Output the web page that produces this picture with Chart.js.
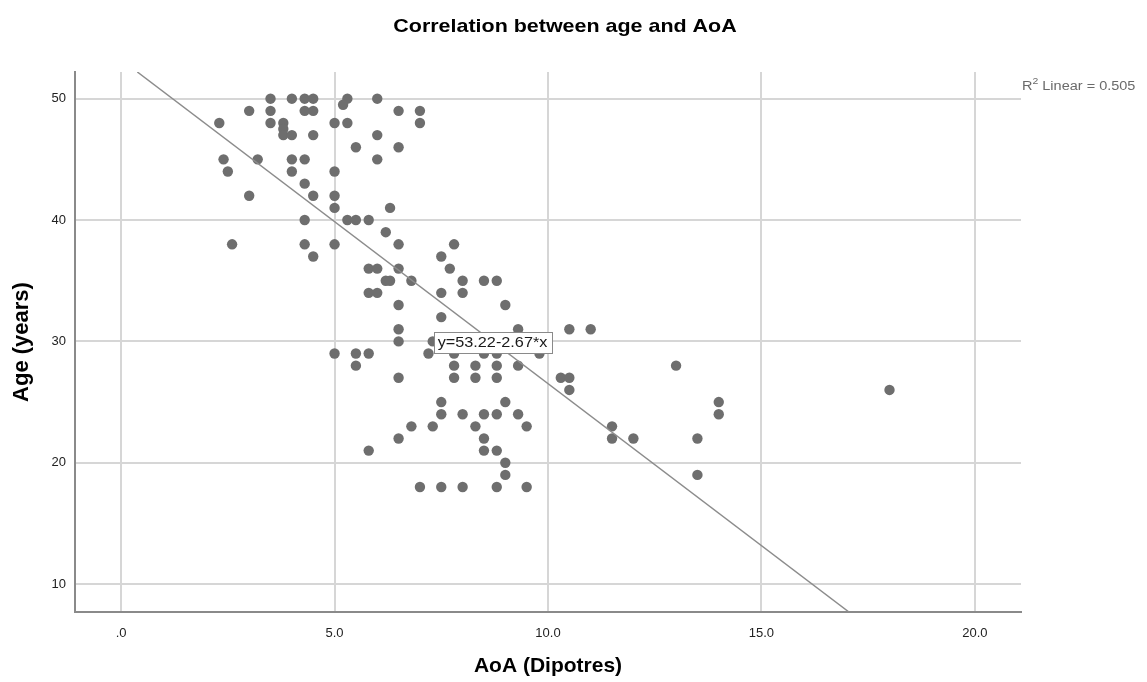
<!DOCTYPE html>
<html>
<head>
<meta charset="utf-8">
<title>Correlation between age and AoA</title>
<script src="https://cdn.jsdelivr.net/npm/chart.js@4.4.0/dist/chart.umd.min.js"></script>
<style>
  html, body { margin: 0; padding: 0; background: #fff; }
  #wrap { width: 1147px; height: 682px; }
</style>
</head>
<body>
<div id="wrap"><canvas id="scatter" width="1147" height="682"></canvas></div>
<script>
// Data: AoA (dioptres) vs age (years)
const aoa = [
  3.5, 4.0, 4.3, 4.5, 5.3, 6.0, 5.2,
  3.0, 3.5, 4.3, 4.5, 6.5, 7.0,
  2.3, 3.5, 3.8, 5.0, 5.3, 7.0,
  3.8, 3.8, 4.0, 4.5, 6.0,
  5.5, 6.5,
  2.4, 3.2, 4.0, 4.3, 6.0,
  2.5, 4.0, 5.0,
  4.3,
  3.0, 4.5, 5.0,
  5.0, 6.3,
  4.3, 5.3, 5.5, 5.8,
  6.2,
  2.6, 4.3, 5.0, 6.5, 7.8,
  4.5, 7.5,
  5.8, 6.0, 6.5, 7.7,
  6.2, 6.3, 6.8, 8.0, 8.5, 8.8,
  5.8, 6.0, 7.5, 8.0,
  6.5, 9.0,
  7.5,
  6.5, 9.3, 10.5, 11.0,
  6.5, 7.3,
  5.0, 5.5, 5.8, 7.2, 7.8, 8.5, 8.8, 9.8,
  5.5, 7.8, 8.3, 8.8, 9.3, 13.0,
  6.5, 7.8, 8.3, 8.8, 10.3, 10.5,
  10.5, 18.0,
  7.5, 9.0, 14.0,
  7.5, 8.0, 8.5, 8.8, 9.3, 14.0,
  6.8, 7.3, 8.3, 9.5, 11.5,
  6.5, 8.5, 11.5, 12.0, 13.5,
  5.8, 8.5, 8.8,
  9.0,
  9.0, 13.5,
  7.0, 7.5, 8.0, 8.8, 9.5
];
const age = [
  50, 50, 50, 50, 50, 50, 49.5,
  49, 49, 49, 49, 49, 49,
  48, 48, 48, 48, 48, 48,
  47.5, 47, 47, 47, 47,
  46, 46,
  45, 45, 45, 45, 45,
  44, 44, 44,
  43,
  42, 42, 42,
  41, 41,
  40, 40, 40, 40,
  39,
  38, 38, 38, 38, 38,
  37, 37,
  36, 36, 36, 36,
  35, 35, 35, 35, 35, 35,
  34, 34, 34, 34,
  33, 33,
  32,
  31, 31, 31, 31,
  30, 30,
  29, 29, 29, 29, 29, 29, 29, 29,
  28, 28, 28, 28, 28, 28,
  27, 27, 27, 27, 27, 27,
  26, 26,
  25, 25, 25,
  24, 24, 24, 24, 24, 24,
  23, 23, 23, 23, 23,
  22, 22, 22, 22, 22,
  21, 21, 21,
  20,
  19, 19,
  18, 18, 18, 18, 18
];

// fit line endpoints where it meets the frame (y = 53.22 - 2.67x)
const fitX = [0.38, 17.05];
const fitY = [52.2, 7.7];

const xTicks = [0, 5, 10, 15, 20];
const xTickLabels = ['.0', '5.0', '10.0', '15.0', '20.0'];
const yTicks = [10, 20, 30, 40, 50];
const yTickLabels = ['10', '20', '30', '40', '50'];

const chartTitle = 'Correlation between age and AoA';
const equationText = 'y=53.22-2.67*x';
const equationAt = { x: 8.7, y: 29.9 };

const FONT = '"Liberation Sans", Arial, sans-serif';
// the original export is stretched a little horizontally
const STRETCH = 1.16;

function stretchedText(ctx, text, x, y) {
  ctx.save();
  ctx.translate(x, y);
  ctx.scale(STRETCH, 1);
  ctx.fillText(text, 0, 0);
  ctx.restore();
  return ctx.measureText(text).width * STRETCH;
}

// Title, R-squared note and fit equation box
const annotations = {
  id: 'annotations',
  afterDatasetsDraw(chart) {
    const ctx = chart.ctx;
    const area = chart.chartArea;
    const xs = chart.scales.x;
    const ys = chart.scales.y;

    ctx.save();
    // equation label on the fit line
    ctx.font = '14px ' + FONT;
    const w = Math.round(ctx.measureText(equationText).width * STRETCH + 8);
    const h = 21;
    const cx = xs.getPixelForValue(equationAt.x);
    const cy = ys.getPixelForValue(equationAt.y);
    const bx = Math.round(cx - w / 2) + 0.5;
    const by = Math.round(cy - h / 2) + 0.5;
    ctx.fillStyle = '#ffffff';
    ctx.fillRect(bx, by, w, h);
    ctx.strokeStyle = '#8a8a8a';
    ctx.lineWidth = 1;
    ctx.strokeRect(bx, by, w, h);
    ctx.fillStyle = '#1a1a1a';
    ctx.textAlign = 'center';
    ctx.textBaseline = 'middle';
    stretchedText(ctx, equationText, cx, cy + 1);

    // title
    ctx.font = 'bold 18.5px ' + FONT;
    ctx.fillStyle = '#000000';
    stretchedText(ctx, chartTitle, 565, 27);

    // R squared
    ctx.textAlign = 'left';
    ctx.fillStyle = '#6a6a6a';
    ctx.font = '12.5px ' + FONT;
    let x = area.right + 1;
    x += stretchedText(ctx, 'R', x, 87);
    ctx.font = '9px ' + FONT;
    x += stretchedText(ctx, '2', x, 82);
    ctx.font = '12.5px ' + FONT;
    stretchedText(ctx, ' Linear = 0.505', x, 87);
    ctx.restore();
  }
};

function initChart() {
  const ctx = document.getElementById('scatter').getContext('2d');
  new Chart(ctx, {
    type: 'scatter',
    data: {
      datasets: [
        {
          type: 'line',
          label: 'Linear fit',
          data: fitX.map((v, i) => ({ x: v, y: fitY[i] })),
          borderColor: '#8c8c8c',
          borderWidth: 1.5,
          pointRadius: 0,
          fill: false,
          order: 0
        },
        {
          label: 'Age',
          data: aoa.map((v, i) => ({ x: v, y: age[i] })),
          backgroundColor: '#6e6e6e',
          borderWidth: 0,
          pointRadius: 5.2,
          order: 1
        }
      ]
    },
    options: {
      responsive: false,
      animation: false,
      devicePixelRatio: 1,
      layout: { padding: { top: 72, right: 126, left: 0, bottom: 0 } },
      plugins: {
        legend: { display: false },
        title: { display: false },
        tooltip: { enabled: false }
      },
      scales: {
        x: {
          type: 'linear',
          min: -1.08,
          max: 21.08,
          afterFit: (s) => { s.height = 70; },
          afterBuildTicks: (s) => { s.ticks = xTicks.map(v => ({ value: v })); },
          grid: { color: '#d6d6d6', lineWidth: 2, drawTicks: false },
          border: { display: true, color: '#8a8a8a', width: 2 },
          ticks: {
            padding: 14,
            color: '#222',
            font: { family: FONT, size: 13 },
            callback: (v) => xTickLabels[xTicks.indexOf(v)]
          },
          title: {
            display: true,
            text: 'AoA (Dipotres)',
            color: '#000',
            font: { family: FONT, size: 21, weight: 'bold' },
            padding: { top: 0, bottom: 3 }
          }
        },
        y: {
          type: 'linear',
          min: 7.7,
          max: 52.2,
          afterFit: (s) => { s.width = 75; },
          afterBuildTicks: (s) => { s.ticks = yTicks.map(v => ({ value: v })); },
          grid: { color: '#d6d6d6', lineWidth: 2, drawTicks: false },
          border: { display: true, color: '#8a8a8a', width: 2 },
          ticks: {
            padding: 9,
            color: '#222',
            font: { family: FONT, size: 13 },
            callback: (v) => yTickLabels[yTicks.indexOf(v)]
          },
          title: {
            display: true,
            text: 'Age (years)',
            color: '#000',
            font: { family: FONT, size: 22, weight: 'bold' },
            padding: { top: 9, bottom: 0 }
          }
        }
      }
    },
    plugins: [annotations]
  });
}

initChart();
</script>
</body>
</html>
